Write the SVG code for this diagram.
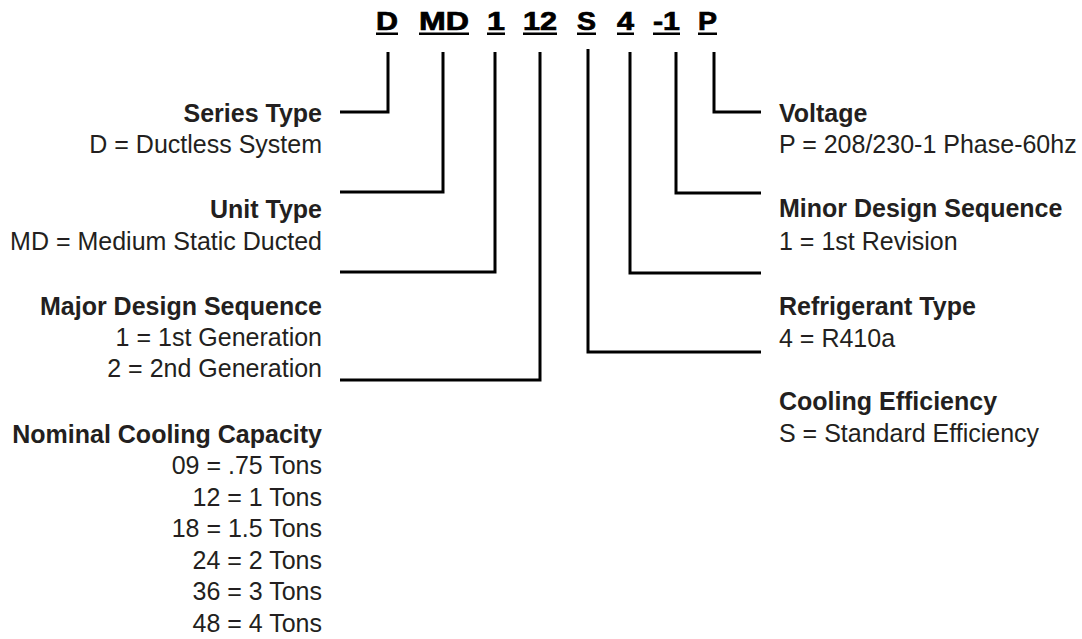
<svg xmlns="http://www.w3.org/2000/svg" width="1082" height="639" viewBox="0 0 1082 639">
<style>
.code{font-family:"Liberation Sans",Arial,Helvetica,sans-serif;font-weight:bold;font-size:25px;fill:#000;stroke:#000;stroke-width:0.7px}
.ul{fill:#000}
.h{font-family:"Liberation Sans",Arial,Helvetica,sans-serif;font-weight:bold;font-size:25px;fill:#231f20}
.v{font-family:"Liberation Sans",Arial,Helvetica,sans-serif;font-size:25px;fill:#231f20}
.l{text-anchor:end}
.w{fill:none;stroke:#000;stroke-width:3;stroke-linejoin:miter}
</style>
<rect width="1082" height="639" fill="#fff"/>
<g id="model-code">
<text class="code" x="376" y="30" textLength="22" lengthAdjust="spacingAndGlyphs">D</text>
<text class="code" x="419" y="30" textLength="50" lengthAdjust="spacingAndGlyphs">MD</text>
<text class="code" x="487" y="30" textLength="18" lengthAdjust="spacingAndGlyphs">1</text>
<text class="code" x="523" y="30" textLength="34" lengthAdjust="spacingAndGlyphs">12</text>
<text class="code" x="577" y="30" textLength="19" lengthAdjust="spacingAndGlyphs">S</text>
<text class="code" x="617" y="30" textLength="17" lengthAdjust="spacingAndGlyphs">4</text>
<text class="code" x="653" y="30" textLength="27" lengthAdjust="spacingAndGlyphs">-1</text>
<text class="code" x="698" y="30" textLength="19" lengthAdjust="spacingAndGlyphs">P</text>
<rect class="ul" x="376" y="32.5" width="22" height="2.5"/>
<rect class="ul" x="419" y="32.5" width="50" height="2.5"/>
<rect class="ul" x="487" y="32.5" width="18" height="2.5"/>
<rect class="ul" x="523" y="32.5" width="34" height="2.5"/>
<rect class="ul" x="577" y="32.5" width="19" height="2.5"/>
<rect class="ul" x="617" y="32.5" width="17" height="2.5"/>
<rect class="ul" x="653" y="32.5" width="27" height="2.5"/>
<rect class="ul" x="698" y="32.5" width="19" height="2.5"/>
</g>
<g id="connectors">
<polyline class="w" points="388,52 388,112 340,112"/>
<polyline class="w" points="443,52 443,192 340,192"/>
<polyline class="w" points="495,52 495,272 340,272"/>
<polyline class="w" points="540,52 540,380 340,380"/>
<polyline class="w" points="588,49 588,352 761,352"/>
<polyline class="w" points="630,52 630,273 761,273"/>
<polyline class="w" points="676,52 676,193 761,193"/>
<polyline class="w" points="714,52 714,112 761,112"/>
</g>
<g id="series-type">
<text class="h l" x="322" y="122">Series Type</text>
<text class="v l" x="322" y="153">D = Ductless System</text>
</g>
<g id="unit-type">
<text class="h l" x="322" y="218">Unit Type</text>
<text class="v l" x="322" y="250">MD = Medium Static Ducted</text>
</g>
<g id="major-design">
<text class="h l" x="322" y="315">Major Design Sequence</text>
<text class="v l" x="322" y="346">1 = 1st Generation</text>
<text class="v l" x="322" y="377">2 = 2nd Generation</text>
</g>
<g id="nominal-capacity">
<text class="h l" x="322" y="443">Nominal Cooling Capacity</text>
<text class="v l" x="322" y="474">09 = .75 Tons</text>
<text class="v l" x="322" y="506">12 = 1 Tons</text>
<text class="v l" x="322" y="537">18 = 1.5 Tons</text>
<text class="v l" x="322" y="569">24 = 2 Tons</text>
<text class="v l" x="322" y="600">36 = 3 Tons</text>
<text class="v l" x="322" y="632">48 = 4 Tons</text>
</g>
<g id="voltage">
<text class="h" x="779" y="122">Voltage</text>
<text class="v" x="779" y="153">P = 208/230-1 Phase-60hz</text>
</g>
<g id="minor-design">
<text class="h" x="779" y="217">Minor Design Sequence</text>
<text class="v" x="779" y="250">1 = 1st Revision</text>
</g>
<g id="refrigerant-type">
<text class="h" x="779" y="315">Refrigerant Type</text>
<text class="v" x="779" y="347">4 = R410a</text>
</g>
<g id="cooling-efficiency">
<text class="h" x="779" y="410">Cooling Efficiency</text>
<text class="v" x="779" y="442">S = Standard Efficiency</text>
</g>
</svg>
